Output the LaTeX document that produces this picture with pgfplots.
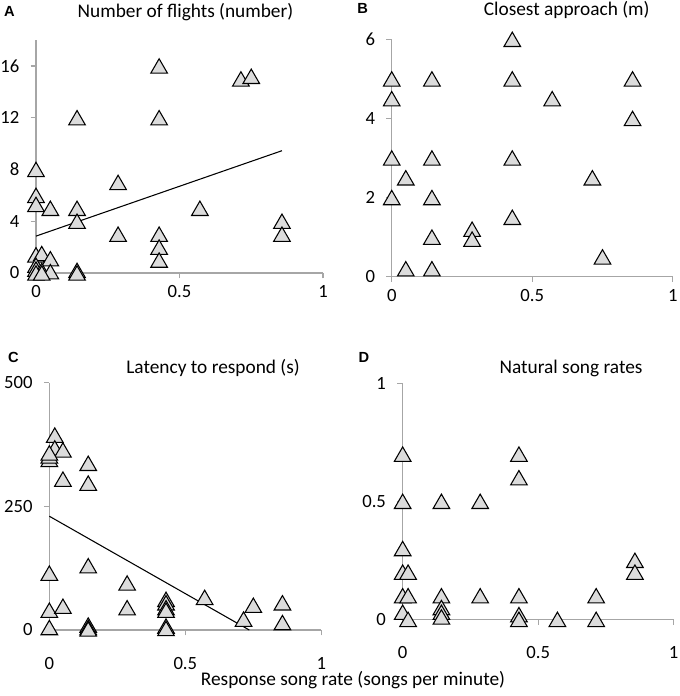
\documentclass[border=0pt]{standalone}
\usepackage{pgfplots}
\pgfplotsset{compat=1.18}
\usepackage{fontspec}
\setmainfont{Carlito}
\newfontfamily\arialf{Liberation Sans}
\definecolor{axisgray}{HTML}{A6A6A6}
\definecolor{markgray}{HTML}{DCDCDC}
\pgfplotsset{
  panel/.style={
    scale only axis,
    axis x line=bottom, axis y line=left,
    axis line style={-, draw=axisgray, line width=0.9pt},
    tick style={draw=axisgray, line width=0.9pt},
    tick align=outside, major tick length=4pt,
    xmin=0, xmax=1, xtick={0,0.5,1},
    enlargelimits=false, clip=false,
    tick label style={font=\fontsize{14}{16}\selectfont},
    yticklabel style={xshift=-5pt},
    /pgf/number format/assume math mode=true,
  },
  tri/.style={only marks, mark=triangle*, mark size=7.2pt,
    mark options={fill=markgray, draw=black, line width=0.8pt, yshift=-1.8pt}},
}
\begin{document}
\begin{tikzpicture}
\path[use as bounding box] (0,0) rectangle (510pt,522pt);
% ---------------- A
\begin{axis}[panel, at={(27pt,317.25pt)}, anchor=south west,
  width=215.25pt, height=174.7pt, ymin=0, ymax=18, ytick={0,4,8,12,16},
  xticklabel style={yshift=-2pt}]
\addplot[tri] coordinates {
(0,1.4) (0.02,1.5) (0.05,1.1) (0,0.6) (0,0.3) (0.02,0.2) (0,0) (0.05,0.1) (0.02,0)
(0,8) (0,6) (0,5.3) (0.05,5)
(0.143,12) (0.143,5) (0.143,4) (0.143,0.2) (0.143,0)
(0.286,7) (0.286,3)
(0.429,16) (0.429,12) (0.429,3) (0.429,2) (0.429,1)
(0.571,5) (0.714,15) (0.75,15.2) (0.857,4) (0.857,3)
};
\addplot[black, line width=0.8pt] coordinates {(0,2.85) (0.857,9.45)};
\end{axis}
% ---------------- B
\begin{axis}[panel, at={(293.8pt,314.5pt)}, anchor=south west,
  width=210.75pt, height=178pt, ymin=0, ymax=6, ytick={0,2,4,6},
  xticklabel style={yshift=-2pt}]
\addplot[tri] coordinates {
(0,5) (0,4.5) (0,3) (0,2) (0.05,2.5) (0.05,0.2)
(0.143,5) (0.143,3) (0.143,2) (0.143,1) (0.143,0.2)
(0.286,1.2) (0.286,0.95)
(0.429,6) (0.429,5) (0.429,3) (0.429,1.5)
(0.571,4.5) (0.714,2.5) (0.75,0.5) (0.857,5) (0.857,4)
};
\end{axis}
% ---------------- C
\begin{axis}[panel, at={(37pt,49.5pt)}, anchor=south west,
  width=204pt, height=185.5pt, ymin=0, ymax=500, ytick={0,250,500},
  xticklabel style={yshift=-12.75pt}]
\addplot[tri] coordinates {
(0,345) (0,352) (0.02,394) (0.02,368) (0.05,364) (0,358) (0.05,305)
(0.143,337) (0.143,297)
(0,115) (0.143,130) (0,40) (0.05,48) (0,5)
(0.143,10) (0.143,5) (0.143,2)
(0.286,95) (0.286,45)
(0.429,62) (0.429,55) (0.429,45) (0.429,40) (0.429,8) (0.429,3)
(0.571,66) (0.714,22) (0.75,50) (0.857,55) (0.857,15)
};
\addplot[black, line width=0.8pt] coordinates {(0,230) (0.735,0)};
\end{axis}
% ---------------- D
\begin{axis}[panel, at={(302pt,57.5pt)}, anchor=south west,
  width=203.25pt, height=177pt, ymin=0, ymax=1, ytick={0,0.5,1},
  xticklabel style={yshift=-12.75pt}]
\addplot[tri] coordinates {
(0,0.7) (0,0.5) (0,0.3) (0,0.2) (0.02,0.2) (0,0.1) (0.02,0.1) (0,0.03) (0.02,0)
(0.143,0.5) (0.143,0.1) (0.143,0.05) (0.143,0.03) (0.143,0.01)
(0.286,0.5) (0.286,0.1)
(0.429,0.7) (0.429,0.6) (0.429,0.1) (0.429,0.02) (0.429,0)
(0.571,0) (0.714,0.1) (0.714,0) (0.857,0.25) (0.857,0.2)
};
\end{axis}
% ---------------- texts
\begin{scope}[every node/.style={inner sep=0pt, anchor=base}]
\node at (139.1pt,{0.75*(696-17.3)*1pt}) {\fontsize{14.5}{17}\selectfont Number of flights (number)};
\node at (425pt,{0.75*(696-16)*1pt}) {\fontsize{14.5}{17}\selectfont Closest approach (m)};
\node at (159.8pt,{0.75*(696-373.3)*1pt}) {\fontsize{14.5}{17}\selectfont Latency to respond (s)};
\node at (428.3pt,{0.75*(696-373.3)*1pt}) {\fontsize{14.5}{17}\selectfont Natural song rates};
\node at (264.75pt,{0.75*(696-685)*1pt}) {\fontsize{14.5}{17}\selectfont Response song rate (songs per minute)};
\node at (7pt,{0.75*(696-16.7)*1pt}) {\arialf\bfseries\fontsize{11}{13}\selectfont A};
\node at (272pt,{0.75*(696-14)*1pt}) {\arialf\bfseries\fontsize{11}{13}\selectfont B};
\node at (10pt,{0.75*(696-362.7)*1pt}) {\arialf\bfseries\fontsize{11}{13}\selectfont C};
\node at (273pt,{0.75*(696-362.7)*1pt}) {\arialf\bfseries\fontsize{11}{13}\selectfont D};
\end{scope}
\end{tikzpicture}
\end{document}
